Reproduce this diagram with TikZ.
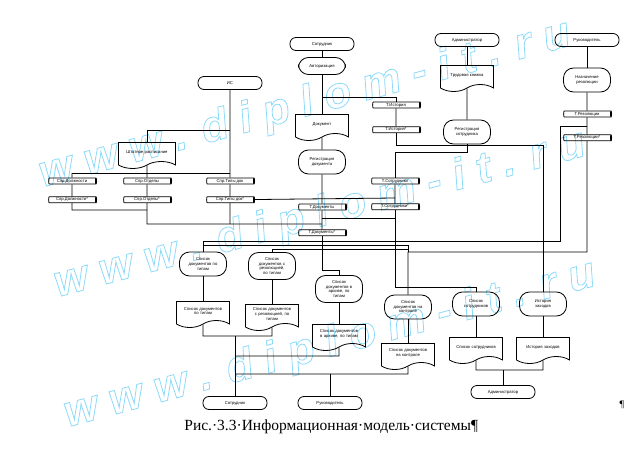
\documentclass[tikz,border=0pt]{standalone}
\usepackage{fontspec}
\setmainfont{Liberation Serif}
\setsansfont{Liberation Sans}
\usetikzlibrary{positioning, shapes.geometric, shapes.symbols}

\begin{document}
\begin{tikzpicture}[
		x=1pt, y=-1pt,
		node distance=12pt and 10pt,
		every node/.style={font=\sffamily\fontsize{4.2}{4.8}\selectfont, align=center, inner sep=1pt},
		term/.style={draw, rounded corners=6pt, minimum width=64pt, minimum height=13pt},
		proc/.style={draw, rounded corners=10pt, minimum width=47pt, minimum height=24pt, text width=42pt},
		doc/.style={draw, tape, tape bend top=none, tape bend height=7pt, minimum width=53pt, minimum height=26pt, text width=49pt},
		store/.style={draw, cylinder, aspect=0.25, minimum height=48pt, minimum width=6pt, inner sep=0.4pt},
		wmark/.style={text=cyan!45!white, font=\sffamily\bfseries\itshape\fontsize{44}{44}\selectfont},
		line width=0.8pt, black
		]
		\useasboundingbox (0,0) rectangle (640,460);
		% Watermark
		\node[wmark, rotate=15] at (305,105) (wm1) {\special{pdf:literal direct 1 Tr 0.8 w}w w w . d i p l o m - i t . r u};
		\node[wmark, rotate=15] at (320,215) (wm2) {\special{pdf:literal direct 1 Tr 0.8 w}w w w . d i p l o m - i t . r u};
		\node[wmark, rotate=15] at (330,345) (wm3) {\special{pdf:literal direct 1 Tr 0.8 w}w w w . d i p l o m - i t . r u};
		
		% Left: directories
		\node[term] at (230,83) (is) {ИС};
		\node[doc, minimum width=57pt] at (147,152) (shtat) {Штатное расписание};
		\node[store] at (72,181) (pos) {Спр.Должности};
		\node[store,below = of pos] (pos2) {Спр.Должности*};
		\node[store] at (147,181) (dep) {Спр.Отделы};
		\node[store,below = of dep] (dep2) {Спр.Отделы*};
		\node[store] at (230,181) (typ) {Спр.Типы док};
		\node[store,below = of typ] (typ2) {Спр.Типы док*};
		
		% Centre: documents
		\node[term] at (322,44) (emp) {Сотрудник};
		\node[proc, minimum height=17pt] at (322,66) (auth) {Авторизация};
		\node[doc] at (322,124) (docm) {Документ};
		\node[proc] at (322,162) (regdoc) {Регистрация\\документа};
		\node[store] at (322,207) (tdoc) {Т.Документы};
		\node[store,below = 19pt of tdoc] (tdocs) {Т.Документы*};
		\node[store] at (396,105) (thist) {Т.История};
		\node[store,below = 18pt of thist] (thist2) {Т.История*};
		
		% Right: staff and resolutions
		\node[term] at (467,40) (adm) {Администратор};
		\node[doc] at (467,75) (book) {Трудовая книжка};
		\node[proc] at (467,132) (regemp) {Регистрация\\сотрудника};
		\node[store] at (395,181) (temp) {Т.Сотрудники};
		\node[store,below = 19pt of temp] (temp2) {Т.Сотрудники*};
		\node[term] at (587,40) (head) {Руководитель};
		\node[proc] at (587,80) (resol) {Назначение\\резолюции};
		\node[store] at (587,114) (tres) {Т.Резолюции};
		\node[store,below = 17pt of tres] (tres2) {Т.Резолюции*};
		
		% Reports
		\node[proc] at (203,264) (l1) {Список\\документов по\\типам};
		\node[proc, minimum height=27pt] at (272,266) (l2) {Список\\документов с\\резолюцией,\\по типам};
		\node[proc, minimum height=27pt] at (339,289) (l3) {Список\\документов в\\архиве, по\\типам};
		\node[proc] at (408,307) (l4) {Список\\документов на\\контроле};
		\node[proc] at (476,304) (l5) {Список\\сотрудников};
		\node[proc] at (543,304) (l6) {История\\заходов};
		\node[doc] at (203,311) (d1) {Список документов\\по типам};
		\node[doc] at (272,314) (d2) {Список документов\\с резолюцией, по\\типам};
		\node[doc] at (339,334) (d3) {Список документов\\в архиве, по типам};
		\node[doc] at (408,353) (d4) {Список документов\\на контроле};
		\node[doc] at (476,347) (d5) {Список сотрудников};
		\node[doc] at (543,347) (d6) {История заходов};
		\node[term] at (235,403) (emp2) {Сотрудник};
		\node[term] at (330,403) (head2) {Руководитель};
		\node[term] at (503,392) (adm2) {Администратор};
		
		% Caption
		\node[font=\rmfamily\fontsize{15.5}{18}\selectfont, anchor=west, inner sep=0pt] at (184,427) (cap) {Рис.·3.3·Информационная·модель·системы¶};
		\node[font=\rmfamily\fontsize{10}{12}\selectfont] at (622,405) (pil) {¶};
		
		% junctions
		\coordinate (a1) at (322,97);
		\coordinate (h1) at (543,145);
		\coordinate (b3) at (339,270);
		\coordinate (c1) at (230,130);
		\coordinate (c2) at (230,224);
		\coordinate (c3) at (72,173);
		\coordinate (c4) at (230,173);
		\coordinate (c5) at (147,173);
		\coordinate (c6) at (72,210);
		\coordinate (c7) at (147,210);
		\coordinate (c8) at (147,224);
		\coordinate (c9) at (322,224);
		\coordinate (e1) at (395,198);
		\coordinate (e2) at (322,218);
		\coordinate (e3) at (395,218);
		\coordinate (f1) at (467,152);
		\coordinate (f2) at (476,287);
		\coordinate (g1) at (587,252);
		\coordinate (g2) at (408,252);
		\coordinate (g3) at (587,126);
		\coordinate (g4) at (560,126);
		\coordinate (g5) at (560,241);
		\coordinate (g6) at (203,241);
		\coordinate (g7) at (203,245);
		\coordinate (g8) at (408,245);
		\coordinate (g9) at (272,249);
		\coordinate (g10) at (408,249);
		\coordinate (k1) at (203,336);
		\coordinate (k2) at (272,336);
		\coordinate (k3) at (235,336);
		\coordinate (k4) at (235,356);
		\coordinate (k5) at (339,356);
		\coordinate (k6) at (235,374);
		\coordinate (k7) at (408,374);
		\coordinate (k8) at (330,374);
		\coordinate (m1) at (476,370);
		\coordinate (m2) at (543,370);
		\coordinate (m3) at (503,370);
		
		% draw lines
		\draw (is) -- (typ);
		\draw (typ) -- (typ2);
		\draw (typ2) -- (c2);
		\draw (c1) -| (shtat);
		\draw (shtat) -- (c5);
		\draw (c3) -- (c4);
		\draw (c3) -- (pos);
		\draw (pos) -- (pos2);
		\draw (pos2) -- (c6) -- (c7);
		\draw (c5) -- (dep);
		\draw (dep) -- (dep2);
		\draw (dep2) -- (c8) -- (c9);
		\draw (typ2) -- (e1);
		\draw (e2) -- (e3);
		
		\draw (emp) -- (auth);
		\draw (auth) -- (docm);
		\draw (a1) -| (thist);
		\draw (thist) -- (thist2);
		\draw (thist2) |- (h1) -- (l6);
		\draw (docm) -- (regdoc);
		\draw (regdoc) -- (tdoc);
		\draw (tdoc) -- (tdocs);
		\draw (tdocs) |- (b3) -- (l3);
		
		\draw (adm) -- (book);
		\draw (book) -- (regemp);
		\draw (regemp) -- (f1) -| (temp);
		\draw (temp) -- (temp2);
		\draw (temp2) |- (f2) -- (l5);
		
		\draw (head) -- (resol);
		\draw (resol) -- (tres);
		\draw (tres) -- (tres2);
		\draw (tres2) -- (g1) -- (g2) -- (l4);
		\draw (g3) -- (g4) -- (g5) -- (g6) -- (l1);
		\draw (g7) -- (g8) -- (g2);
		\draw (g10) -- (g9) -- (l2);
		
		\draw (l1) -- (d1);
		\draw (l2) -- (d2);
		\draw (l3) -- (d3);
		\draw (l4) -- (d4);
		\draw (l5) -- (d5);
		\draw (l6) -- (d6);
		
		\draw (d1) -- (k1) -- (k2) -- (d2);
		\draw (k3) -- (emp2);
		\draw (d3) -- (k5) -- (k4);
		\draw (k6) -- (k7) -- (d4);
		\draw (k8) -- (head2);
		\draw (d5) -- (m1) -- (m2) -- (d6);
		\draw (m3) -- (adm2);
		
	\end{tikzpicture}
\end{document}
